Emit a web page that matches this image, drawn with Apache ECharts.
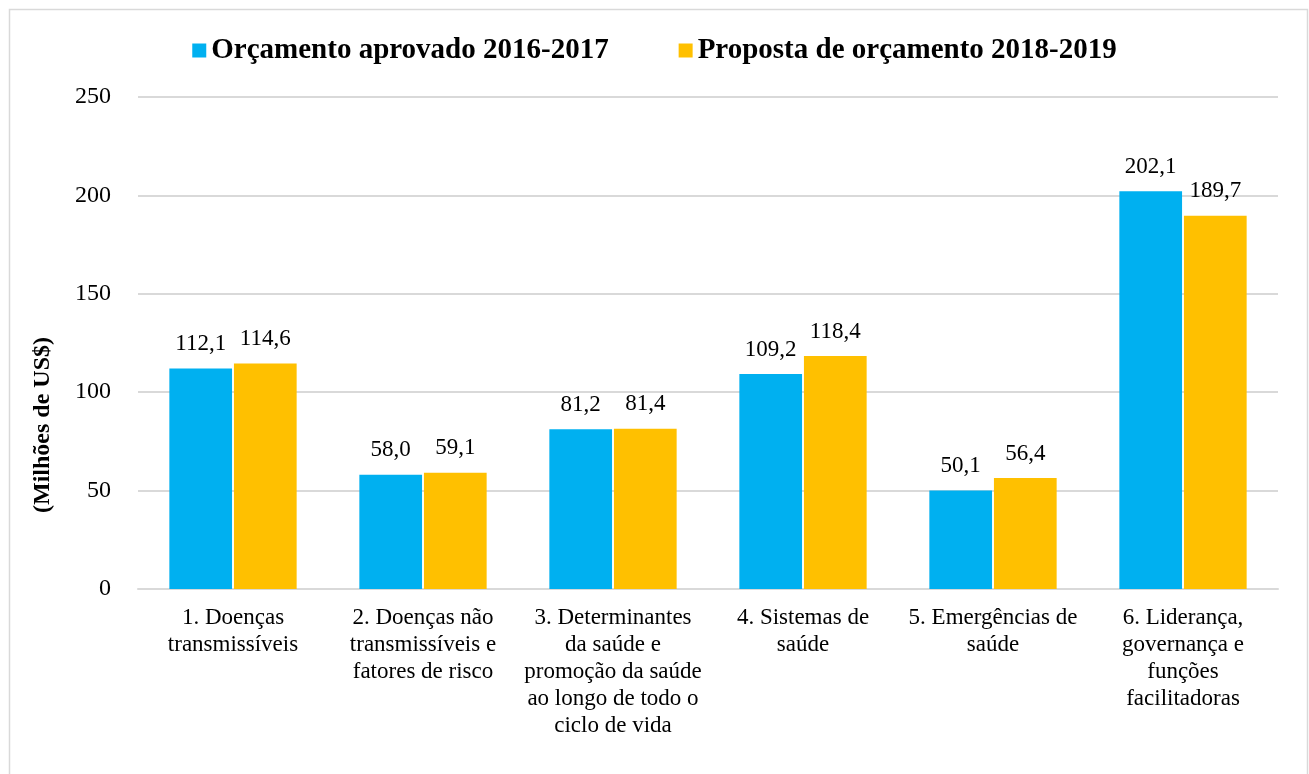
<!DOCTYPE html>
<html>
<head>
<meta charset="utf-8">
<title>Orçamento</title>
<script src="https://cdn.jsdelivr.net/npm/echarts@6/dist/echarts.min.js"></script>
<style>
    html, body { margin: 0; padding: 0; background: #fff; }
    #chart { width: 1309px; height: 774px; }
</style>
</head>
<body>
<div id="chart"></div>
<script>
// dados
var categories = [
    '1. Doenças\ntransmissíveis',
    '2. Doenças não\ntransmissíveis e\nfatores de risco',
    '3. Determinantes\nda saúde e\npromoção da saúde\nao longo de todo o\nciclo de vida',
    '4. Sistemas de\nsaúde',
    '5. Emergências de\nsaúde',
    '6. Liderança,\ngovernança e\nfunções\nfacilitadoras'
];
var aprovado = [112.1, 58.0, 81.2, 109.2, 50.1, 202.1];
var proposta = [114.6, 59.1, 81.4, 118.4, 56.4, 189.7];
var seriesNames = ['Orçamento aprovado 2016-2017', 'Proposta de orçamento 2018-2019'];

var font = '"Liberation Serif", "Times New Roman", serif';
var myEcharts = echarts.init(document.getElementById('chart'));

// rótulo com vírgula decimal
function fmt(p) {
    return p.value.toFixed(1).replace('.', ',');
}

var barLabel = {
    show: true,
    position: 'top',
    distance: 13,
    formatter: fmt,
    fontFamily: font,
    fontSize: 23,
    color: '#000'
};

var option = {
    color: ['#00B0F0', '#FFC000'],
    textStyle: { fontFamily: font },
    graphic: [{
        type: 'rect',
        shape: { x: 9.5, y: 9.5, width: 1298, height: 780 },
        style: { fill: 'none', stroke: '#d9d9d9', lineWidth: 1.5 },
        silent: true
    }],
    legend: {
        top: 31,
        left: 'center',
        itemWidth: 14,
        itemHeight: 14,
        itemGap: 70,
        icon: 'rect',
        textStyle: {
            fontFamily: font,
            fontSize: 29,
            fontWeight: 'bold',
            color: '#000'
        },
        data: seriesNames
    },
    grid: {
        left: 138,
        right: 31,
        top: 97,
        bottom: 185,
        containLabel: false
    },
    xAxis: {
        type: 'category',
        data: categories,
        axisLine: { lineStyle: { color: '#d9d9d9', width: 2 } },
        axisTick: { show: false },
        axisLabel: {
            interval: 0,
            margin: 15,
            fontFamily: font,
            fontSize: 23,
            lineHeight: 27,
            color: '#000'
        }
    },
    yAxis: {
        type: 'value',
        min: 0,
        max: 250,
        interval: 50,
        name: '(Milhões de US$)',
        nameLocation: 'middle',
        nameGap: 83,
        nameRotate: 90,
        nameTextStyle: {
            fontFamily: font,
            fontSize: 24,
            fontWeight: 'bold',
            color: '#000',
            padding: [0, 164, 0, 0]
        },
        axisLine: { show: false },
        axisTick: { show: false },
        splitLine: { lineStyle: { color: '#d9d9d9', width: 2 } },
        axisLabel: {
            margin: 27,
            fontFamily: font,
            fontSize: 24,
            color: '#000',
            padding: [4, 0, 0, 0]
        }
    },
    series: [
        {
            name: seriesNames[0],
            type: 'bar',
            data: aprovado,
            barGap: '3%',
            barCategoryGap: '33%',
            label: barLabel
        },
        {
            name: seriesNames[1],
            type: 'bar',
            data: proposta,
            barGap: '3%',
            barCategoryGap: '33%',
            label: barLabel
        }
    ]
};
myEcharts.setOption(option);
</script>
</body>
</html>
